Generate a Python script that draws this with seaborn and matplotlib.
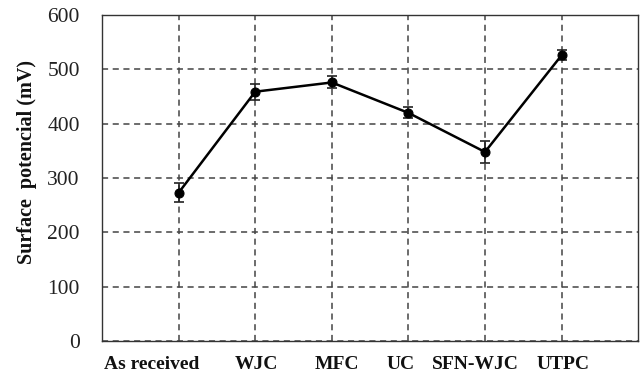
import matplotlib
matplotlib.use("Agg")
import matplotlib.pyplot as plt
import seaborn as sns
import numpy as np
import pandas as pd

categories = ["As received", "WJC", "MFC", "UC", "SFN-WJC", "UTPC"]
potential = [273, 459, 476, 420, 348, 526]
error = [17, 15, 11, 10, 20, 9]
y_ticks = [0, 100, 200, 300, 400, 500, 600]

sns.set_theme(style="white")
plt.rcParams['font.family'] = ['Liberation Serif', 'DejaVu Serif']

df = pd.DataFrame({"pos": np.arange(len(categories)), "cat": categories,
                   "val": potential, "err": error})

fig = plt.figure(figsize=(6.42, 3.78), dpi=100)
ax = fig.add_axes([0.159, 0.098, 0.835, 0.862])

sns.lineplot(data=df, x="pos", y="val", ax=ax, color="black", lw=1.8,
             marker="o", markersize=6.5, markeredgecolor="black", zorder=4)
ax.errorbar(df["pos"], df["val"], yerr=df["err"], fmt="none", ecolor="#222222",
            elinewidth=1.2, capsize=3.5, capthick=1.2, zorder=3)

ax.set_xlim(-1, len(categories))
ax.set_ylim(0, 600)
ax.set_yticks(y_ticks)
ax.set_xticks(df["pos"])
ax.set_xticklabels([])
ax.grid(True, which="major", axis="both", linestyle=(0, (4, 3)), color="#444444", lw=1.1)
ax.set_axisbelow(True)
ax.tick_params(axis="both", length=0)
ax.tick_params(axis="y", labelsize=15.5, pad=16)
for lbl in ax.get_yticklabels():
    lbl.set_color("#222222")

label_shift = [-0.35, 0.02, 0.07, -0.1, -0.12, 0.02]
for p, c, s in zip(df["pos"], categories, label_shift):
    ax.text(p + s, -0.072, c, transform=ax.get_xaxis_transform(), ha="center", va="center",
            fontsize=14, fontweight="bold", color="#111111")

ax.set_xlabel("")
ax.set_ylabel("Surface  potencial (mV)", fontsize=14.5, fontweight="bold", color="#111111")
ax.yaxis.set_label_coords(-0.121, 0.55)

for sp in ax.spines.values():
    sp.set_visible(True)
    sp.set_color("#333333")
    sp.set_linewidth(1.0)

fig.savefig("out.png", dpi=100)
